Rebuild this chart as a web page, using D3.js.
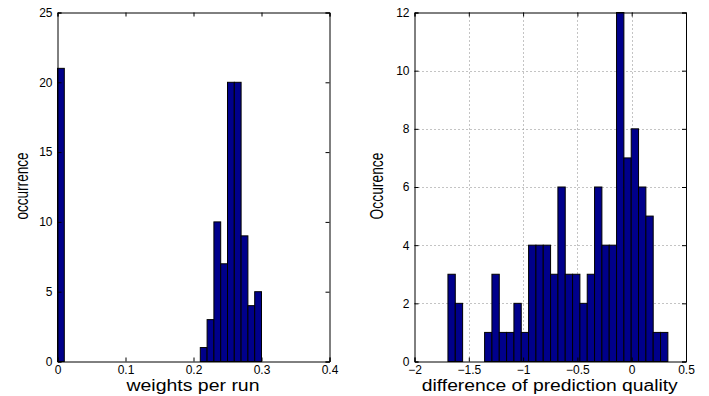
<!DOCTYPE html>
<html><head><meta charset="utf-8">
<script src="https://cdn.jsdelivr.net/npm/d3@7"></script>
<style>body{margin:0;background:#fff}svg{display:block}text{font-family:"Liberation Sans",Arial,sans-serif;fill:#000}</style>
</head><body><svg id="c" width="709" height="396"></svg>
<script>
// Left histogram: weights per run (bin edges start, width 0.01)
const leftBinStarts = [0.00, 0.21, 0.22, 0.23, 0.24, 0.25, 0.26, 0.27, 0.28, 0.29];
const leftCounts    = [21,   1,    3,    10,   7,    20,   20,   9,    4,    5];
const leftBinWidth = 0.01;
const leftXTicks = [0, 0.1, 0.2, 0.3, 0.4];
const leftYTicks = [0, 5, 10, 15, 20, 25];

// Right histogram: difference of prediction quality (30 bins)
const rightStart = -1.692;
const rightBinWidth = 0.0675;
const rightCounts = [3,2,0,0,0,1,3,1,1,2,1,4,4,4,3,6,3,3,2,3,6,4,4,12,7,8,6,5,1,1];
const rightXTicks = [-2, -1.5, -1, -0.5, 0, 0.5];
const rightYTicks = [0, 2, 4, 6, 8, 10, 12];

const svg = d3.select("#c");
const barColor = "#00008b";
const fmt = v => String(v).replace("-", "\u2212");

function panel(o) {
  const x = d3.scaleLinear().domain(o.xDomain).range([o.x0, o.x1]);
  const y = d3.scaleLinear().domain(o.yDomain).range([o.y1, o.y0]);
  const g = svg.append("g");
  if (o.grid) {
    const gg = g.append("g").attr("stroke", "#888").attr("stroke-width", 1).attr("stroke-dasharray", "1,3");
    o.xTicks.slice(1, -1).forEach(t => gg.append("line")
      .attr("x1", Math.round(x(t)) + 0.5).attr("x2", Math.round(x(t)) + 0.5)
      .attr("y1", o.y0).attr("y2", o.y1));
    o.yTicks.slice(1, -1).forEach(t => gg.append("line")
      .attr("y1", Math.round(y(t)) + 0.5).attr("y2", Math.round(y(t)) + 0.5)
      .attr("x1", o.x0).attr("x2", o.x1));
  }
  g.append("g").selectAll("rect").data(o.bins.filter(d => d.c > 0)).join("rect")
    .attr("x", d => x(d.s))
    .attr("width", d => x(d.s + o.bw) - x(d.s))
    .attr("y", d => y(Math.min(d.c, o.yDomain[1])))
    .attr("height", d => y(0) - y(Math.min(d.c, o.yDomain[1])))
    .attr("fill", barColor).attr("stroke", "#000").attr("stroke-width", 1);

  const tl = 4;
  const axB = d3.axisBottom(x).tickValues(o.xTicks).tickSize(-tl).tickPadding(4).tickFormat(fmt);
  const axT = d3.axisTop(x).tickValues(o.xTicks).tickSize(-tl).tickFormat("");
  const axL = d3.axisLeft(y).tickValues(o.yTicks).tickSize(-tl).tickPadding(5).tickFormat(fmt);
  const axR = d3.axisRight(y).tickValues(o.yTicks).tickSize(-tl).tickFormat("");
  [[axB, `translate(0,${o.y1})`], [axT, `translate(0,${o.y0})`], [axL, `translate(${o.x0},0)`], [axR, `translate(${o.x1},0)`]]
    .forEach(([a, tr]) => {
      const ag = g.append("g").attr("transform", tr).call(a);
      ag.select(".domain").attr("stroke", "#000");
      ag.selectAll(".tick line").attr("stroke", "#000");
      ag.selectAll("text").attr("font-size", 12).attr("font-family", "Liberation Sans, Arial, sans-serif");
    });
  g.append("text").attr("x", (o.x0 + o.x1) / 2 + o.xlOff).attr("y", 391)
    .attr("text-anchor", "middle").attr("font-size", 16)
    .attr("textLength", o.xlLen).attr("lengthAdjust", "spacingAndGlyphs").text(o.xLabel);
  g.append("text").attr("transform", `translate(${o.ylX},186) rotate(-90)`)
    .attr("text-anchor", "middle").attr("font-size", 18)
    .attr("textLength", 67).attr("lengthAdjust", "spacingAndGlyphs").text(o.yLabel);
}

panel({
  x0: 57.5, x1: 329.5, y0: 12.5, y1: 361.5,
  xDomain: [0, 0.4], yDomain: [0, 25],
  xTicks: leftXTicks, yTicks: leftYTicks,
  bins: leftBinStarts.map((s, i) => ({ s, c: leftCounts[i] })), bw: leftBinWidth,
  xLabel: "weights per run", xlLen: 133, xlOff: -0.5, yLabel: "occurrence", ylX: 28, grid: false
});

panel({
  x0: 414.5, x1: 686, y0: 12.5, y1: 361.5,
  xDomain: [-2, 0.5], yDomain: [0, 12],
  xTicks: rightXTicks, yTicks: rightYTicks,
  bins: rightCounts.map((c, i) => ({ s: rightStart + i * rightBinWidth, c })), bw: rightBinWidth,
  xLabel: "difference of prediction quality", xlLen: 256, xlOff: -0.5, yLabel: "Occurence", ylX: 383, grid: true
});
</script></body></html>
